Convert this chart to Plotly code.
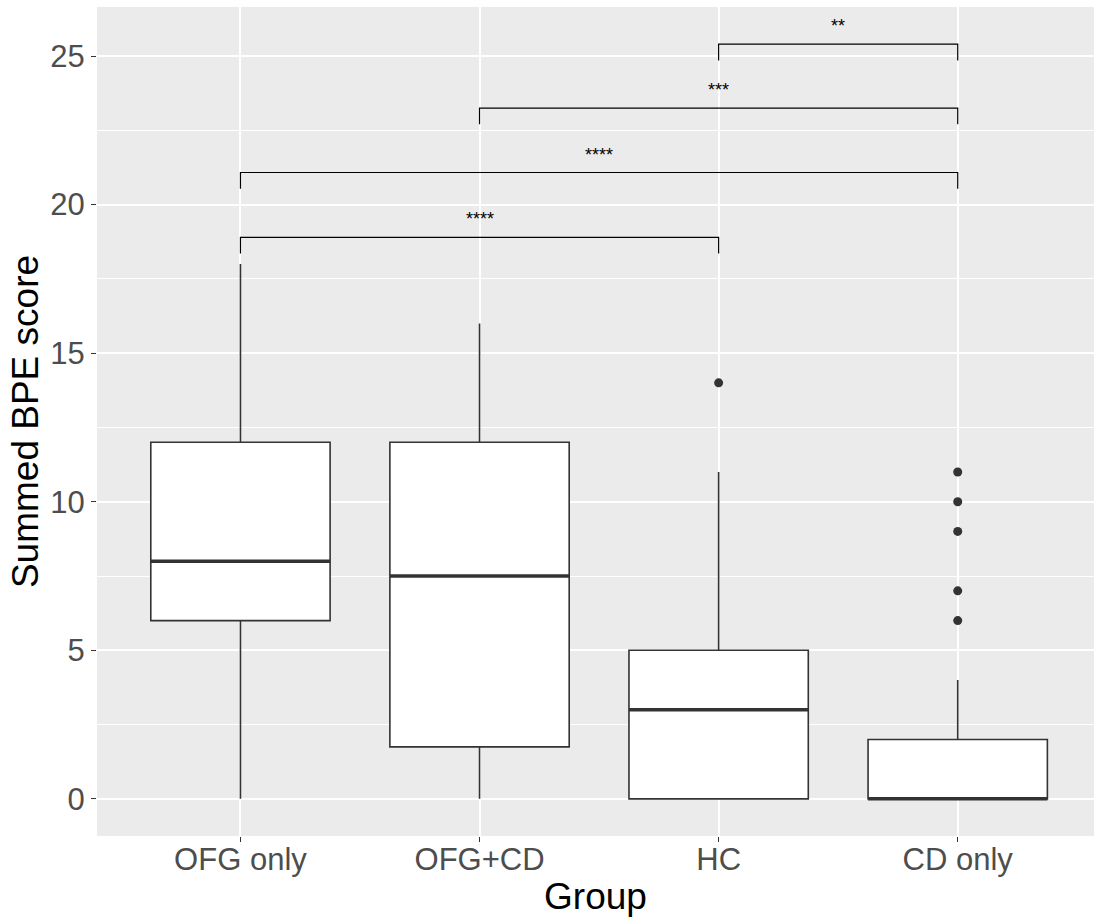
import plotly.graph_objects as go

# Summed BPE score by group: box summaries
groups = ["OFG only", "OFG+CD", "HC", "CD only"]
lower_whisker = [0, 0, 0, 0]
q1 = [6, 1.75, 0, 0]
median = [8, 7.5, 3, 0]
q3 = [12, 12, 5, 2]
upper_whisker = [18, 16, 11, 4]
outliers = [[], [], [14], [6, 7, 9, 10, 11]]

# Pairwise comparisons (group index pairs), bracket heights and significance labels
comp_left = [0, 0, 1, 2]
comp_right = [2, 3, 3, 3]
comp_y = [18.9, 21.08, 23.25, 25.4]
comp_label = ["****", "****", "***", "**"]
tip = 0.55

box_w = 0.75
dark = "#333333"
font_family = "Liberation Sans, Arial, Helvetica, sans-serif"

fig = go.Figure()

xs = list(range(len(groups)))
for i, g in enumerate(groups):
    fig.add_trace(go.Box(
        x=[i], q1=[q1[i]], median=[median[i]], q3=[q3[i]],
        lowerfence=[lower_whisker[i]], upperfence=[upper_whisker[i]],
        width=box_w, whiskerwidth=0, boxpoints=False,
        fillcolor="white", line=dict(color=dark, width=1.6),
        showlegend=False, hoverinfo="skip",
    ))
    # thicker median bar
    fig.add_trace(go.Scatter(
        x=[i - box_w / 2, i + box_w / 2], y=[median[i], median[i]],
        mode="lines", line=dict(color=dark, width=3.5),
        showlegend=False, hoverinfo="skip",
    ))
    if outliers[i]:
        fig.add_trace(go.Scatter(
            x=[i] * len(outliers[i]), y=outliers[i], mode="markers",
            marker=dict(color=dark, size=9),
            showlegend=False, hoverinfo="skip",
        ))

for a, b, y, lab in zip(comp_left, comp_right, comp_y, comp_label):
    fig.add_trace(go.Scatter(
        x=[a, a, b, b], y=[y - tip, y, y, y - tip], mode="lines",
        line=dict(color="black", width=1.2),
        showlegend=False, hoverinfo="skip",
    ))
    fig.add_annotation(
        x=(a + b) / 2, y=y, text=lab, showarrow=False,
        yanchor="bottom", yshift=6,
        font=dict(family=font_family, size=18, color="black"),
    )

fig.update_layout(
    width=1094, height=917,
    margin=dict(l=97, r=0, t=7, b=81),
    paper_bgcolor="white", plot_bgcolor="#EBEBEB",
    font=dict(family=font_family),
)
fig.update_xaxes(
    range=[-0.6, 3.57], tickmode="array", tickvals=xs, ticktext=groups,
    showgrid=True, gridcolor="white", gridwidth=2, zeroline=False,
    ticks="outside", ticklen=5, tickcolor=dark, tickwidth=1.2,
    tickfont=dict(size=31, color="#4D4D4D"), automargin=False,
    ticklabelstandoff=-9,
    title=dict(text="Group", font=dict(size=37, color="black"), standoff=2),
)
fig.update_yaxes(
    range=[-1.25, 26.65], tickmode="array", tickvals=[0, 5, 10, 15, 20, 25],
    showgrid=True, gridcolor="white", gridwidth=2, zeroline=False,
    minor=dict(tickvals=[2.5, 7.5, 12.5, 17.5, 22.5], showgrid=True,
               gridcolor="white", gridwidth=1, ticks=""),
    ticks="outside", ticklen=5, tickcolor=dark, tickwidth=1.2,
    tickfont=dict(size=31, color="#4D4D4D"), automargin=False,
    title=dict(text="Summed BPE score", font=dict(size=37, color="black"), standoff=0),
)

fig.write_html("out.html")
